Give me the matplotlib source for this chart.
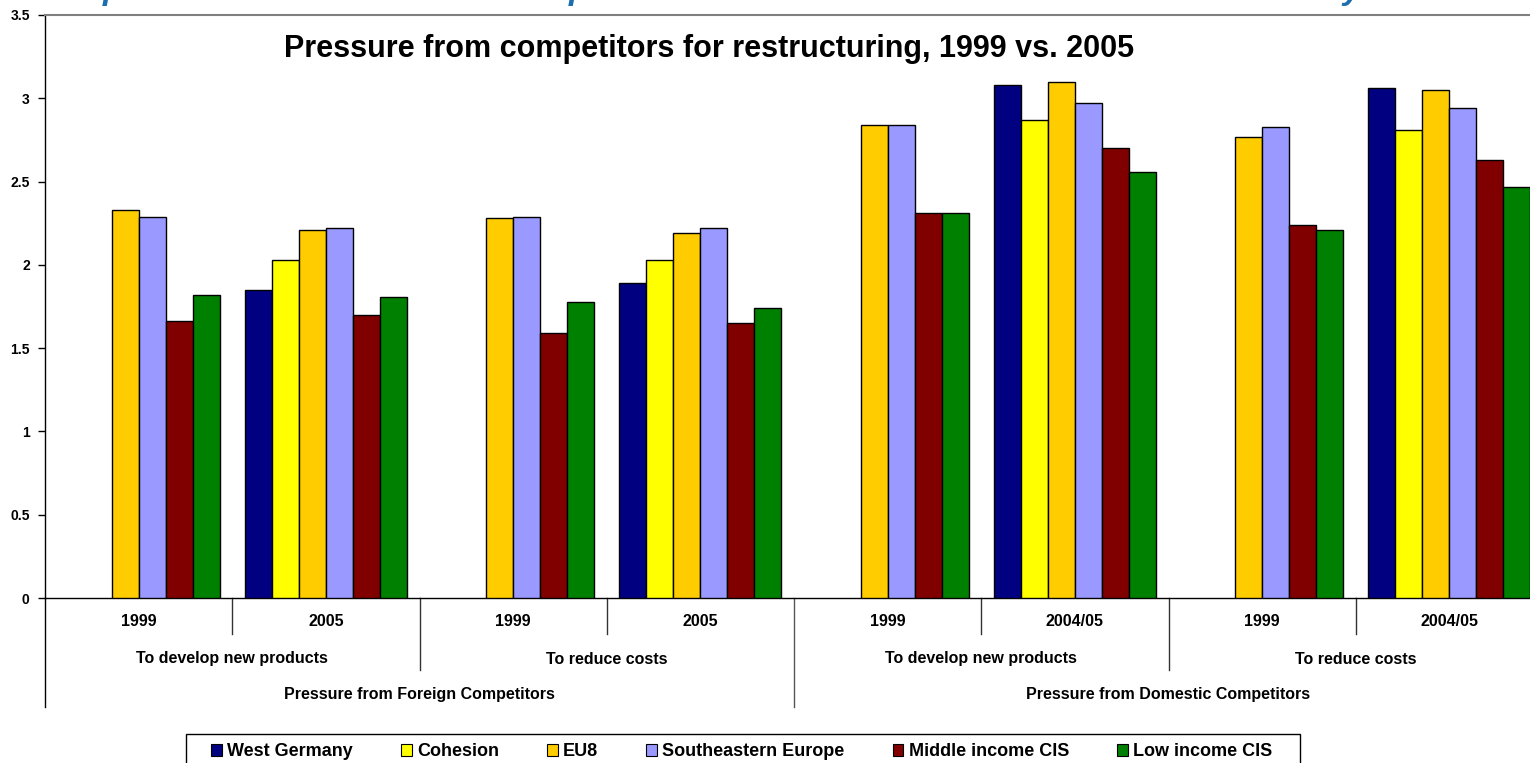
import matplotlib.pyplot as plt
import matplotlib.transforms as mtransforms
from matplotlib.patches import Patch, Rectangle
import numpy as np

plt.rcParams['font.family'] = ['Liberation Sans', 'DejaVu Sans']

# series, one value per group (None = no answer in that survey round)
series = ['West Germany', 'Cohesion', 'EU8', 'Southeastern Europe',
          'Middle income CIS', 'Low income CIS']
colors = ['#000080', '#FFFF00', '#FFCC00', '#9999FF', '#800000', '#008000']

west_germany = [None, 1.85, None, 1.89, None, 3.08, None, 3.06]
cohesion = [None, 2.03, None, 2.03, None, 2.87, None, 2.81]
eu8 = [2.33, 2.21, 2.28, 2.19, 2.84, 3.10, 2.77, 3.05]
southeastern = [2.29, 2.22, 2.29, 2.22, 2.84, 2.97, 2.83, 2.94]
middle_cis = [1.66, 1.70, 1.59, 1.65, 2.31, 2.70, 2.24, 2.63]
low_cis = [1.82, 1.81, 1.78, 1.74, 2.31, 2.56, 2.21, 2.47]

years = ['1999', '2005', '1999', '2005', '1999', '2004/05', '1999', '2004/05']
purposes = ['To develop new products', 'To reduce costs',
            'To develop new products', 'To reduce costs']
sources = ['Pressure from Foreign Competitors', 'Pressure from Domestic Competitors']

values = [west_germany, cohesion, eu8, southeastern, middle_cis, low_cis]

W, H = 1530, 763
fig = plt.figure(figsize=(W / 100, H / 100), dpi=100)
ax = fig.add_axes([45 / W, 1 - 598 / H, (1543 - 45) / W, 583 / H])

n_groups = len(years)
bw = 0.1444
x = np.arange(n_groups) + 0.5
for j, (name, vals, c) in enumerate(zip(series, values, colors)):
    xs = [xi + (j - 2.5) * bw for xi, v in zip(x, vals) if v is not None]
    hs = [v for v in vals if v is not None]
    ax.bar(xs, hs, width=bw, color=c, edgecolor='black', linewidth=1.0, zorder=3)

ax.set_xlim(0, n_groups)
ax.set_ylim(0, 3.5)
ax.set_yticks(np.arange(0, 3.51, 0.5))
ax.set_yticklabels(['0', '0.5', '1', '1.5', '2', '2.5', '3', '3.5'])
ax.tick_params(axis='y', length=5, width=1, pad=6, labelsize=10)
for lab in ax.get_yticklabels():
    lab.set_fontweight('bold')
ax.set_xticks([])
ax.spines['right'].set_visible(False)
ax.spines['top'].set_color('#808080')
ax.spines['top'].set_linewidth(1.5)
ax.spines['left'].set_linewidth(1.0)
ax.spines['bottom'].set_linewidth(1.0)

# multi-level category axis below the plot
tr = mtransforms.blended_transform_factory(ax.transData, ax.transAxes)
def ypos(pix):
    return -(pix - 598) / 583

lab_kw = dict(transform=tr, ha='center', va='center', fontsize=11.5, fontweight='bold')
for i, yr in enumerate(years):
    ax.text(i + 0.5, ypos(622), yr, **lab_kw)
for i in range(1, n_groups):
    if i % 4 == 0:
        bottom, col = 707, '#555555'
    elif i % 2 == 0:
        bottom, col = 670, '#333333'
    else:
        bottom, col = 634, '#333333'
    ax.plot([i, i], [0, ypos(bottom)], transform=tr, color=col, lw=1.0,
            clip_on=False)
ax.plot([0, 0], [0, ypos(707)], transform=tr, color='black', lw=1.0, clip_on=False)

for k, p in enumerate(purposes):
    ax.text(2 * k + 1, ypos(659), p, **lab_kw)
for k, s in enumerate(sources):
    ax.text(4 * k + 2, ypos(695), s, **lab_kw)

fig.text(709 / W, 1 - 57 / H, 'Pressure from competitors for restructuring, 1999 vs. 2005',
         ha='center', va='baseline', fontsize=22, fontweight='bold')

# slide heading running off the top edge
for xp, ch in [(113, 'p'), (579, 'p'), (1352, 'y')]:
    fig.text(xp / W, 1 + 1 / H, ch, ha='center', va='baseline', fontsize=24,
             fontweight='bold', style='italic', color='#1B6FAE')

# legend, with its own box drawn across the bottom
fig.patches.append(Rectangle((186 / W, 1 - 771 / H), (1300 - 186) / W, 37 / H,
                             transform=fig.transFigure, fill=False,
                             edgecolor='black', linewidth=1.0))
handles = [Patch(facecolor=c, edgecolor='black', linewidth=0.8) for c in colors]
fig.legend(handles, series, loc='center left', bbox_to_anchor=(211 / W, 1 - 752 / H),
           ncol=6, frameon=False, prop={'weight': 'bold', 'size': 13},
           handlelength=0.6, handleheight=0.6, handletextpad=0.3,
           columnspacing=2.65, borderpad=0, borderaxespad=0)

fig.savefig('out.png', dpi=100)
